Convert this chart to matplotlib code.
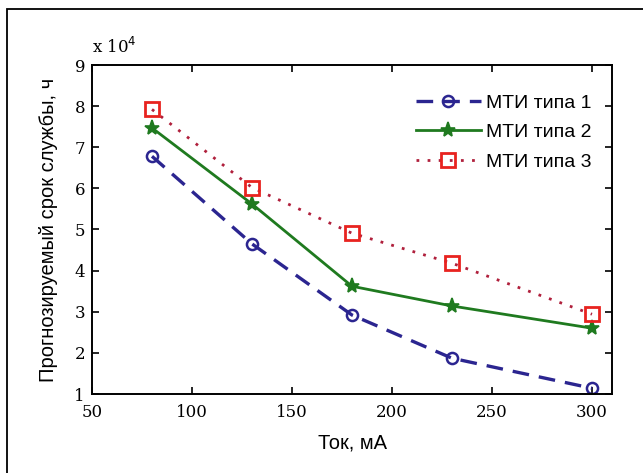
import numpy as np
import matplotlib
matplotlib.use('Agg')
import matplotlib.pyplot as plt
from matplotlib.patches import Rectangle

# Data (lifetime in units of 1e4 hours)
current = [80, 130, 180, 230, 300]
mti1 = [6.78, 4.65, 2.92, 1.87, 1.14]
mti2 = [7.47, 5.62, 3.62, 3.14, 2.60]
mti3 = [7.92, 6.02, 4.91, 4.18, 2.94]
labels = ['МТИ типа 1', 'МТИ типа 2', 'МТИ типа 3']
xticks = [50, 100, 150, 200, 250, 300]
yticks = [1, 2, 3, 4, 5, 6, 7, 8, 9]

fig = plt.figure(figsize=(6.43, 4.73), dpi=100)
ax = fig.add_axes([92/643, 79/473, 520/643, 329/473])

# outer frame of the picture
fig.patches.append(Rectangle((7/643, -0.1), 1.2, (464/473) + 0.1, transform=fig.transFigure,
                             fill=False, edgecolor='black', linewidth=1.3))

ax.plot(current, mti1, color='#2b2590', linestyle=(0, (5, 3)), linewidth=2.4,
        marker='o', markersize=8, markerfacecolor='none', markeredgewidth=1.8,
        label=labels[0])
ax.plot(current, mti2, color='#1f7a1f', linestyle='-', linewidth=2.0,
        marker='*', markersize=11, markeredgewidth=1.2, label=labels[1])
ax.plot(current, mti3, color='#b0203c', linestyle=(0, (1, 3)), linewidth=2.0,
        marker='s', markersize=10, markerfacecolor='none', markeredgecolor='#e8231f',
        markeredgewidth=2.0, label=labels[2])

ax.set_xlim(50, 310)
ax.set_ylim(1, 9)
ax.set_xticks(xticks)
ax.set_yticks(yticks)
ax.tick_params(direction='in', top=True, right=True, length=5, width=1.2)
ax.tick_params(axis='x', pad=7)
ax.tick_params(axis='y', pad=5)
for lab in ax.get_xticklabels() + ax.get_yticklabels():
    lab.set_fontfamily('DejaVu Serif')
    lab.set_fontsize(12)
for s in ax.spines.values():
    s.set_linewidth(1.4)

ax.text(0.0, 1.025, r'x 10$^4$', transform=ax.transAxes, fontsize=12,
        family='DejaVu Serif', ha='left', va='bottom')

ax.set_xlabel('Ток, мА', fontsize=14.5, family='Liberation Sans', labelpad=9)
ax.set_ylabel('Прогнозируемый срок службы, ч', fontsize=14.5,
              family='Liberation Sans', labelpad=12)

leg = ax.legend(loc='upper right', bbox_to_anchor=(0.995, 0.965), frameon=False,
                prop={'family': 'Liberation Sans', 'size': 14},
                handlelength=3.3, handletextpad=0.3, labelspacing=0.62)

fig.savefig('out.png', dpi=100, facecolor='white')
